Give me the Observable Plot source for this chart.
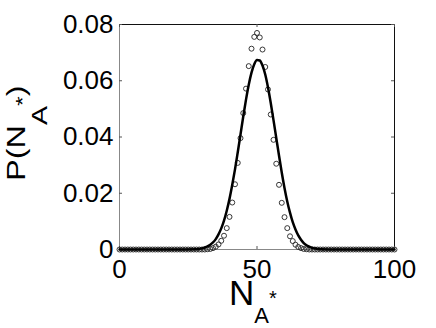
<!DOCTYPE html>
<html><head><meta charset="utf-8">
<script src="https://cdn.jsdelivr.net/npm/d3@7"></script>
<script src="https://cdn.jsdelivr.net/npm/@observablehq/plot@0.6"></script>
<style>html,body{margin:0;padding:0;background:#fff} svg{display:block}</style>
</head><body><div id="chart"></div>
<script>
// Observed probabilities P(N_A*) for N_A* = 0..100 (circles)
const pObserved = [
  0,0,0,0,0,0,0,0,0,0,
  0,0,0,0,0,0,0,0,0,0,
  0,0,0,0,0,0,0,0,0,0,
  0,0,0.0001,0.0002,0.0005,0.0010,0.0018,0.0031,0.0049,0.0076,
  0.0116,0.0167,0.0232,0.0308,0.0396,0.0485,0.0572,0.0652,0.0714,0.0756,
  0.0770,0.0754,0.0711,0.0649,0.0569,0.0480,0.0390,0.0305,0.0230,0.0166,
  0.0115,0.0076,0.0047,0.0030,0.0017,0.0009,0.0005,0.0002,0.0001,0,
  0,0,0,0,0,0,0,0,0,0,
  0,0,0,0,0,0,0,0,0,0,
  0,0,0,0,0,0,0,0,0,0,
  0
];
// Fitted curve (solid line)
const curveN = [0,20,28,29,30,31,32,33,34,35,36,37,38,39,40,41,42,43,44,45,46,47,48,49,50,51,52,53,54,55,56,57,58,59,60,61,62,63,64,65,66,67,68,69,70,71,72,73,80,100];
const curveP = [0,0,0.0001,0.0002,0.0004,0.0007,0.0011,0.0017,0.0025,0.0037,0.0054,0.0075,0.0103,0.0138,0.0180,0.0230,0.0285,0.0346,0.0409,0.0473,0.0533,0.0586,0.0629,0.0659,0.0674,0.0672,0.0654,0.0622,0.0576,0.0521,0.0460,0.0397,0.0334,0.0274,0.0219,0.0171,0.0131,0.0097,0.0071,0.0050,0.0035,0.0023,0.0015,0.0010,0.0006,0.0004,0.0002,0.0001,0,0];
const xTicks = [0, 50, 100];
const yTicks = [0, 0.02, 0.04, 0.06, 0.08];

const obs = pObserved.map((p, i) => ({n: i, p}));
const fit = curveN.map((n, i) => ({n, p: curveP[i]}));

const font = "'Liberation Sans', Arial, Helvetica, sans-serif";
const W = 436, H = 328, mL = 119, mR = 42, mT = 24, mB = 79;
const fw = W - mL - mR, fh = H - mT - mB;

const chart = Plot.plot({
  width: W, height: H,
  marginLeft: mL, marginRight: mR, marginTop: mT, marginBottom: mB,
  style: {fontFamily: font, fontSize: "26px", color: "#000", background: "#fff", overflow: "visible"},
  x: {domain: [0, 100]},
  y: {domain: [0, 0.08]},
  marks: [
    Plot.ruleX([0], {stroke: "#888", strokeWidth: 1}),
    Plot.ruleY([0], {stroke: "#888", strokeWidth: 1}),
    Plot.ruleY([0.08], {stroke: "#111", strokeWidth: 1}),
    Plot.ruleX([100], {stroke: "#111", strokeWidth: 1}),
    Plot.tickX(xTicks, {x: d => d, insetTop: fh - 3, stroke: "#555"}),
    Plot.tickX(xTicks, {x: d => d, insetBottom: fh - 3, stroke: "#555"}),
    Plot.tickY(yTicks, {y: d => d, insetRight: fw - 3, stroke: "#555"}),
    Plot.tickY(yTicks, {y: d => d, insetLeft: fw - 3, stroke: "#555"}),
    Plot.axisX({ticks: xTicks, tickSize: 0, tickPadding: 10, label: null, tickFormat: d => String(d), fontSize: 26}),
    Plot.axisY({ticks: yTicks, tickSize: 0, tickPadding: 6, label: null, tickFormat: d => String(d), fontSize: 26}),
    Plot.dot(obs, {x: "n", y: "p", r: 2.5, stroke: "#222", strokeWidth: 0.9, fill: "none"}),
    Plot.line(fit, {x: "n", y: "p", stroke: "#000", strokeWidth: 2.5, curve: "monotone-x"})
  ]
});
document.getElementById("chart").appendChild(chart);

const svg = d3.select(chart);
// x label: N_A*
const xl = svg.append("text").attr("x", 229).attr("y", 305)
  .attr("text-anchor", "start").attr("font-family", font).attr("fill", "#000");
xl.append("tspan").attr("font-size", 35).text("N");
xl.append("tspan").attr("font-size", 22).attr("dy", 18).text("A");
xl.append("tspan").attr("font-size", 20).attr("dy", -18).text("*");

// y label: P(N_A*)
const yl = svg.append("text").attr("transform", "translate(25,181) rotate(-90) scale(1.3,1)")
  .attr("text-anchor", "start").attr("font-family", font).attr("fill", "#000");
yl.append("tspan").attr("font-size", 25).text("P(N");
yl.append("tspan").attr("font-size", 22).attr("dy", 22).text("A");
yl.append("tspan").attr("font-size", 19).attr("dy", -18).text("*");
yl.append("tspan").attr("font-size", 25).attr("dy", -4).text(")");
</script>
</body></html>
